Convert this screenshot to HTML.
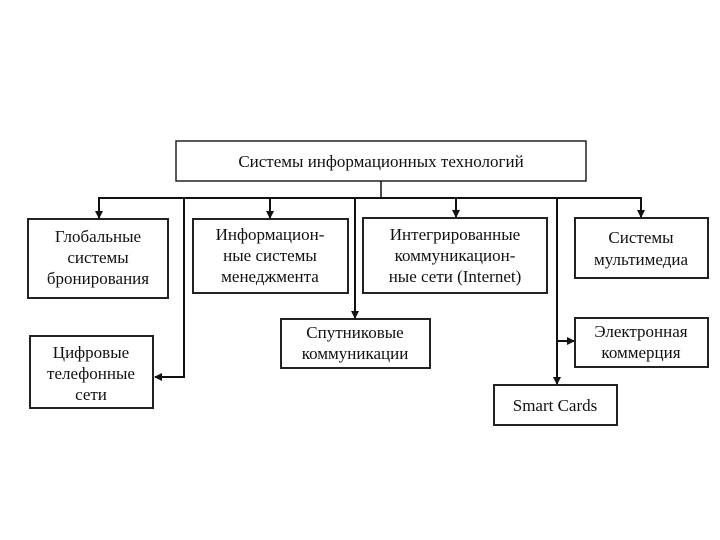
<!DOCTYPE html>
<html><head><meta charset="utf-8"><style>
html,body{margin:0;padding:0;background:#fff;}
svg{display:block}
text{font-family:"Liberation Serif",serif;font-size:17px;fill:#111;text-anchor:middle}
</style></head><body>
<svg width="720" height="540" viewBox="0 0 720 540">
<defs><marker id="a" markerWidth="8" markerHeight="8" refX="7" refY="4" orient="auto" markerUnits="userSpaceOnUse"><path d="M0,0 L8,4 L0,8 z" fill="#111"/></marker></defs>
<g fill="#fff" stroke="#222" stroke-width="2">
<rect x="176" y="141" width="410" height="40" stroke-width="1.5"/>
<rect x="28" y="219" width="140" height="79"/>
<rect x="193" y="219" width="155" height="74"/>
<rect x="363" y="218" width="184" height="75"/>
<rect x="575" y="218" width="133" height="60"/>
<rect x="30" y="336" width="123" height="72"/>
<rect x="281" y="319" width="149" height="49"/>
<rect x="575" y="318" width="133" height="49"/>
<rect x="494" y="385" width="123" height="40"/>
</g>
<g stroke="#111" stroke-width="2" fill="none">
<line x1="381" y1="181" x2="381" y2="198" stroke-width="1.5"/>
<line x1="98" y1="198" x2="642" y2="198"/>
<line x1="99" y1="198" x2="99" y2="218" marker-end="url(#a)"/>
<line x1="270" y1="198" x2="270" y2="218" marker-end="url(#a)"/>
<line x1="456" y1="198" x2="456" y2="217" marker-end="url(#a)"/>
<line x1="641" y1="198" x2="641" y2="217" marker-end="url(#a)"/>
<polyline points="184,198 184,377 155,377" marker-end="url(#a)"/>
<line x1="355" y1="198" x2="355" y2="318" marker-end="url(#a)"/>
<line x1="557" y1="198" x2="557" y2="384" marker-end="url(#a)"/>
<line x1="557" y1="341" x2="574" y2="341" marker-end="url(#a)"/>
</g>
<text x="381" y="167">Системы информационных технологий</text>
<text x="98" y="242">Глобальные</text><text x="98" y="263">системы</text><text x="98" y="284">бронирования</text>
<text x="270" y="240">Информацион-</text><text x="270" y="261">ные системы</text><text x="270" y="282">менеджмента</text>
<text x="455" y="240">Интегрированные</text><text x="455" y="261">коммуникацион-</text><text x="455" y="282">ные сети (Internet)</text>
<text x="641" y="243">Системы</text><text x="641" y="265">мультимедиа</text>
<text x="91" y="358">Цифровые</text><text x="91" y="379">телефонные</text><text x="91" y="400">сети</text>
<text x="355" y="338">Спутниковые</text><text x="355" y="359">коммуникации</text>
<text x="641" y="337">Электронная</text><text x="641" y="358">коммерция</text>
<text x="555" y="411">Smart Cards</text>
</svg>
</body></html>
